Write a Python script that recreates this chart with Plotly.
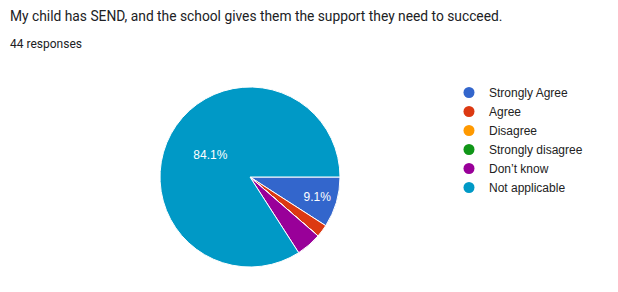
import plotly.graph_objects as go

title_text = "My child has SEND, and the school gives them the support they need to succeed."
subtitle_text = "44 responses"
categories = ["Strongly Agree", "Agree", "Disagree", "Strongly disagree", "Don\u2019t know", "Not applicable"]
counts = [4, 1, 0, 0, 2, 37]
colors = ["#3366CC", "#DC3912", "#FF9900", "#109618", "#990099", "#0099C6"]

W, H = 618, 292
total = sum(counts)
labels_text = [f"{100 * c / total:.1f}%" if c / total >= 0.05 else "" for c in counts]

fig = go.Figure()
fig.add_trace(go.Pie(
    labels=categories,
    values=counts,
    text=labels_text,
    textinfo="text",
    textposition="inside",
    insidetextorientation="horizontal",
    textfont=dict(family="Liberation Sans, Arial", size=12, color="white"),
    marker=dict(colors=colors, line=dict(color="white", width=1)),
    sort=False,
    direction="clockwise",
    rotation=90,
    showlegend=False,
    hoverinfo="label+percent",
    domain=dict(x=[160 / W, 340 / W], y=[(H - 267) / H, (H - 87) / H]),
))

for name, col in zip(categories, colors):
    fig.add_trace(go.Scatter(
        x=[None], y=[None], mode="markers", name=name,
        marker=dict(color=col, size=11, symbol="circle"),
        showlegend=True,
    ))

fig.update_layout(
    width=W, height=H,
    margin=dict(l=0, r=0, t=0, b=0),
    paper_bgcolor="white", plot_bgcolor="white",
    xaxis=dict(visible=False), yaxis=dict(visible=False),
    legend=dict(
        x=449 / W, y=1 - 78 / H, xanchor="left", yanchor="top",
        font=dict(family="Liberation Sans, Arial", size=12, color="#222222"),
        itemwidth=30, tracegroupgap=0, bgcolor="rgba(0,0,0,0)",
    ),
    annotations=[
        dict(text=title_text, x=8 / W, y=1 - 16 / H, xref="paper", yref="paper",
             xanchor="left", yanchor="middle", showarrow=False,
             font=dict(family="Roboto", size=13.8, color="#202124")),
        dict(text=subtitle_text, x=8 / W, y=1 - 44 / H, xref="paper", yref="paper",
             xanchor="left", yanchor="middle", showarrow=False,
             font=dict(family="Roboto", size=12, color="#202124")),
    ],
)

fig.write_html("out.html")
